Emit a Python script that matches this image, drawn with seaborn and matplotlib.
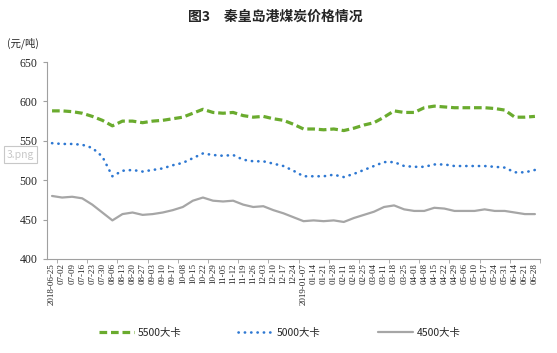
import numpy as np
import pandas as pd
import seaborn as sns
import matplotlib.pyplot as plt
from matplotlib.ticker import FixedLocator

sns.set_style("white")
plt.rcParams['font.family'] = ['Noto Sans CJK SC', 'DejaVu Sans']

# weekly dates (category axis)
dates = ["2018-06-25", "07-02", "07-09", "07-16", "07-23", "07-30", "08-06", "08-13",
         "08-20", "08-27", "09-03", "09-10", "09-17", "10-08", "10-15", "10-22", "10-29",
         "11-05", "11-12", "11-19", "11-26", "12-03", "12-10", "12-17", "12-24",
         "2019-01-07", "01-14", "01-21", "01-28", "02-11", "02-18", "02-25", "03-04",
         "03-11", "03-18", "03-25", "04-01", "04-08", "04-15", "04-22", "04-29", "05-06",
         "05-10", "05-17", "05-24", "05-31", "06-14", "06-21", "06-28"]

# prices, yuan per ton
price_5500 = [588, 588, 587, 585, 581, 576, 569, 575, 575, 573, 575, 576, 578, 580,
              585, 590, 586, 585, 586, 582, 580, 581, 578, 576, 571,
              565, 565, 564, 565, 563, 566, 570, 573, 580, 588, 586, 586, 592, 594,
              593, 592, 592, 592, 592, 591, 589, 580, 580, 581]
price_5000 = [547, 546, 546, 545, 541, 530, 505, 512, 513, 511, 513, 515, 519, 522,
              528, 534, 532, 531, 532, 526, 524, 524, 521, 518, 512,
              505, 505, 505, 507, 504, 508, 513, 518, 523, 523, 518, 517, 517, 520,
              520, 518, 518, 518, 518, 517, 516, 510, 510, 513]
price_4500 = [480, 478, 479, 477, 469, 459, 449, 457, 459, 456, 457, 459, 462, 466,
              474, 478, 474, 473, 474, 469, 466, 467, 462, 458, 453,
              448, 449, 448, 449, 447, 452, 456, 460, 466, 468, 463, 461, 461, 465,
              464, 461, 461, 461, 463, 461, 461, 459, 457, 457]

labels = ["5500大卡", "5000大卡", "4500大卡"]
colors = ["#6AAB2E", "#2E78D2", "#A6A6A6"]

x = np.arange(len(dates))
fig = plt.figure(figsize=(5.57, 3.53), dpi=100)
ax = fig.add_axes([0.0844, 0.2663, 0.885, 0.558])

sns.lineplot(x=x, y=price_5500, ax=ax, color=colors[0], linewidth=2.3,
             linestyle=(0, (2.4, 1.2)), label=labels[0])
sns.lineplot(x=x, y=price_5000, ax=ax, color=colors[1], linewidth=1.9,
             linestyle=(0, (0.1, 2.3)), dash_capstyle="round", label=labels[1])
sns.lineplot(x=x, y=price_4500, ax=ax, color=colors[2], linewidth=1.6,
             label=labels[2])

ax.set_xlim(-0.5, len(dates) - 0.5)
ax.set_ylim(400, 650)
ax.set_yticks([400, 450, 500, 550, 600, 650])
ax.set_xticks(x)
ax.set_xticklabels(dates, rotation=90, fontsize=6.5, family="Liberation Serif")
ax.xaxis.set_minor_locator(FixedLocator(np.arange(0.5, len(dates), 3)))
ax.tick_params(axis="x", which="major", length=0, pad=3)
ax.tick_params(axis="x", which="minor", length=3, color="#A0A0A0", direction="out", bottom=True)
ax.tick_params(axis="y", length=3, color="#A0A0A0", direction="out", left=True, pad=4)
for t in ax.get_yticklabels():
    t.set_family("Liberation Serif")
    t.set_fontsize(8.5)

for s in ["top", "right"]:
    ax.spines[s].set_visible(False)
for s in ["left", "bottom"]:
    ax.spines[s].set_color("#A0A0A0")
    ax.spines[s].set_linewidth(0.8)

fig.text(0.495, 0.952, "图3　秦皇岛港煤炭价格情况", ha="center", va="center",
         fontsize=10, fontweight="bold")
fig.text(0.013, 0.878, "(元/吨)", ha="left", va="center", fontsize=7.5)

# screenshot tooltip
fig.text(0.012, 0.562, "3.png", ha="left", va="center", fontsize=7.5, color="#C8C8C8",
         zorder=10,
         bbox=dict(boxstyle="square,pad=0.3", fc="white", ec="#C8C8C8", lw=0.8))

ax.legend(loc="center", ncol=3, frameon=False, fontsize=7.5, handlelength=3.4,
          handletextpad=0.3, columnspacing=5.5)
ax.get_legend().set_bbox_to_anchor((0.502, 0.057), transform=fig.transFigure)

fig.savefig("out.png", dpi=100)
